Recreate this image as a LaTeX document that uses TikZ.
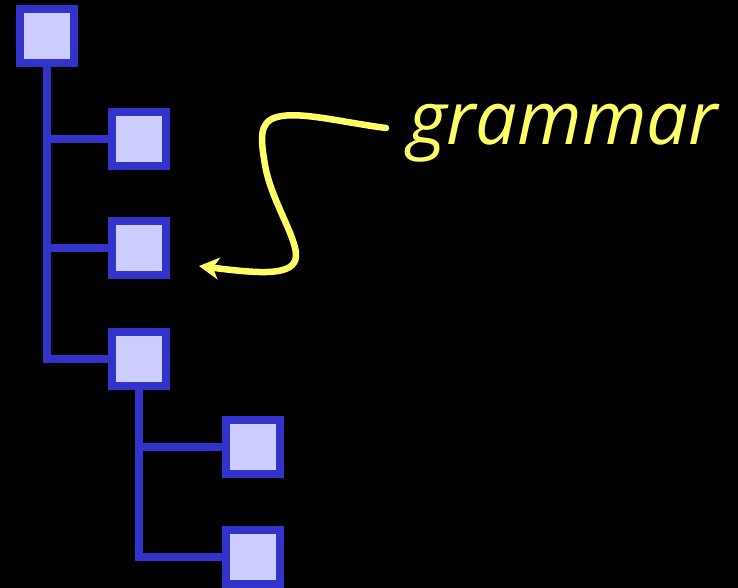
\documentclass[tikz,border=0pt]{standalone}
\usepackage{fontspec}
\newfontfamily\lblfont{Open Sans}
\usetikzlibrary{arrows.meta}
\definecolor{boxblue}{HTML}{3333CC}
\definecolor{boxfill}{HTML}{CCCCFF}
\definecolor{lblyellow}{HTML}{FFFF66}
\begin{document}
\begin{tikzpicture}[x=1pt,y=-1pt,
  treebox/.style={draw=boxblue,fill=boxfill,line width=8pt,minimum width=54pt,minimum height=54pt,inner sep=0pt,outer sep=0pt},
  treeline/.style={draw=boxblue,line width=8pt,line join=miter},
  pointer/.style={draw=lblyellow,line width=6.5pt,line cap=round,-{Stealth[length=20pt,width=22pt,inset=6pt]}}]
\fill[black] (0,0) rectangle (738,588);
\useasboundingbox (0,0) rectangle (738,588);
% tree lines (drawn via coordinates first, boxes on top)
\coordinate (c1) at (46.5,36);
\coordinate (c2) at (139.3,139);
\coordinate (c3) at (139.3,248);
\coordinate (c4) at (139.3,359);
\coordinate (c5) at (253.3,447);
\coordinate (c6) at (253.3,557);
\draw[treeline] (c1) |- (c4);
\draw[treeline] (c1 |- c2) -- (c2);
\draw[treeline] (c1 |- c3) -- (c3);
\draw[treeline] (c4) |- (c6);
\draw[treeline] (c4 |- c5) -- (c5);
\node[treebox] (b1) at (c1) {};
\node[treebox] (b2) at (c2) {};
\node[treebox] (b3) at (c3) {};
\node[treebox] (b4) at (c4) {};
\node[treebox] (b5) at (c5) {};
\node[treebox] (b6) at (c6) {};
% label
\node[anchor=base west,inner sep=0pt,text=lblyellow,font=\lblfont\itshape\fontsize{74}{82}\selectfont] (lbl) at (408,145) {grammar};
\coordinate (start) at (386,128);
\coordinate (tip) at (199,266);
\draw[pointer] (start) .. controls (340,122) and (300,111) .. (277,117)
  .. controls (258,122) and (261,140) .. (265,165)
  .. controls (271,200) and (297,238) .. (296,256)
  .. controls (295,276) and (262,274) .. (tip);
\end{tikzpicture}
\end{document}
